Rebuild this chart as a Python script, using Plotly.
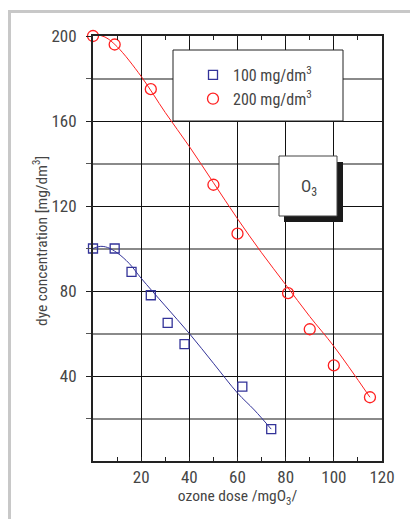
import plotly.graph_objects as go

# ---- data ----
dose_100 = [0, 9, 16, 24, 31, 38, 62, 74]
conc_100 = [100, 100, 89, 78, 65, 55, 35, 15]
dose_200 = [0, 9, 24, 50, 60, 81, 90, 100, 115]
conc_200 = [200, 196, 175, 130, 107, 79, 62, 45, 30]

# fitted curves
fit_x_100 = [0, 3, 6, 10, 15, 20, 30, 40, 50, 60, 67, 74]
fit_y_100 = [100, 101, 100.5, 98, 93, 86, 73, 60, 46, 32, 24, 15]
fit_x_200 = [0, 5, 10, 20, 30, 40, 50, 60, 70, 80, 90, 100, 115]
fit_y_200 = [201, 199.5, 195, 181, 164, 148, 131, 114, 98, 83, 68, 54, 30]

x_ticks = [20, 40, 60, 80, 100, 120]
y_ticks = [40, 80, 120, 160, 200]
y_minor = [20, 60, 100, 140, 180]
x_minor = [10, 30, 50, 70, 90, 110]

FONT = "Liberation Sans Narrow, Arial Narrow, Roboto Condensed, Liberation Sans, sans-serif"
TXT = "#454545"
BLUE = "#333399"
RED = "#ff2020"

fig = go.Figure()
fig.add_trace(go.Scatter(x=fit_x_100, y=fit_y_100, mode="lines", line=dict(color=BLUE, width=1, shape="spline"),
                         showlegend=False, hoverinfo="skip"))
fig.add_trace(go.Scatter(x=fit_x_200, y=fit_y_200, mode="lines", line=dict(color=RED, width=1, shape="spline"),
                         showlegend=False, hoverinfo="skip"))
fig.add_trace(go.Scatter(x=dose_100, y=conc_100, mode="markers", name="100 mg/dm<sup>3</sup>",
                         marker=dict(symbol="square-open", size=9, color=BLUE, line=dict(width=1.3, color=BLUE)),
                         cliponaxis=False))
fig.add_trace(go.Scatter(x=dose_200, y=conc_200, mode="markers", name="200 mg/dm<sup>3</sup>",
                         marker=dict(symbol="circle-open", size=11, color=RED, line=dict(width=1.3, color=RED)),
                         cliponaxis=False))

L, R, T, B = 93, 28, 36, 58
W, H = 410, 519
PW, PH = W - L - R, H - T - B


def px(xp):
    return (xp - L) / PW


def py(yp):
    return (H - B - yp) / PH


shapes = [
    # outer light-gray frame
    dict(type="line", xref="paper", yref="paper", x0=px(9.5), x1=px(9.5), y0=py(10), y1=py(530),
         line=dict(color="#c8c8c8", width=3), layer="below"),
    dict(type="line", xref="paper", yref="paper", x0=px(8), x1=px(420), y0=py(11.5), y1=py(11.5),
         line=dict(color="#c8c8c8", width=3), layer="below"),
    # legend box
    dict(type="rect", xref="paper", yref="paper", x0=px(173), x1=px(343), y0=py(50), y1=py(121),
         fillcolor="white", line=dict(color="#222", width=1), layer="above"),
    # O3 box shadow + box
    dict(type="rect", xref="paper", yref="paper", x0=px(284), x1=px(343), y0=py(162), y1=py(222),
         fillcolor="#1a1a1a", line=dict(color="#1a1a1a", width=0), layer="above"),
    dict(type="rect", xref="paper", yref="paper", x0=px(279), x1=px(337), y0=py(156), y1=py(216),
         fillcolor="white", line=dict(color="#444", width=1), layer="above"),
]

fig.update_layout(
    width=W, height=H,
    margin=dict(l=L, r=R, t=T, b=B),
    paper_bgcolor="white", plot_bgcolor="white",
    font=dict(family=FONT, size=17, color=TXT),
    shapes=shapes,
    showlegend=True,
    legend=dict(x=px(193), y=py(58), xanchor="left", yanchor="top", bgcolor="rgba(0,0,0,0)",
                borderwidth=0, font=dict(family=FONT, size=16, color=TXT)),
    annotations=[
        dict(text="O<sub>3</sub>", xref="paper", yref="paper", x=px(309), y=py(187),
             xanchor="center", yanchor="middle", align="center",
             showarrow=False, font=dict(family=FONT, size=17, color=TXT)),
        dict(text="dye concentration [mg/dm<sup>3</sup>]", xref="paper", yref="paper",
             x=px(41), y=py(241), xanchor="center", yanchor="middle", textangle=-90,
             showarrow=False, font=dict(family=FONT, size=15.5, color=TXT)),
    ],
    xaxis=dict(range=[0, 120], tickvals=x_ticks, ticks="inside", ticklen=4, tickcolor="#222",
               showgrid=True, gridcolor="#111", gridwidth=1,
               showline=True, linecolor="#222", linewidth=2, mirror="ticks",
               minor=dict(tickvals=x_minor, ticks="inside", ticklen=4, tickcolor="#222", showgrid=False),
               zeroline=False, ticklabelstandoff=0,
               title=dict(text="ozone dose /mgO<sub>3</sub>/", standoff=2, font=dict(size=15.5))),
    yaxis=dict(range=[0, 200], tickvals=y_ticks, ticks="outside", ticklen=5, tickcolor="#222",
               showgrid=True, gridcolor="#111", gridwidth=1,
               showline=True, linecolor="#222", linewidth=2, mirror=True,
               minor=dict(tickvals=y_minor, ticks="outside", ticklen=5, tickcolor="#555",
                          showgrid=True, gridcolor="#8a8a8a", gridwidth=1.6),
               zeroline=False, ticklabelstandoff=6),
)

fig.write_html("out.html")
